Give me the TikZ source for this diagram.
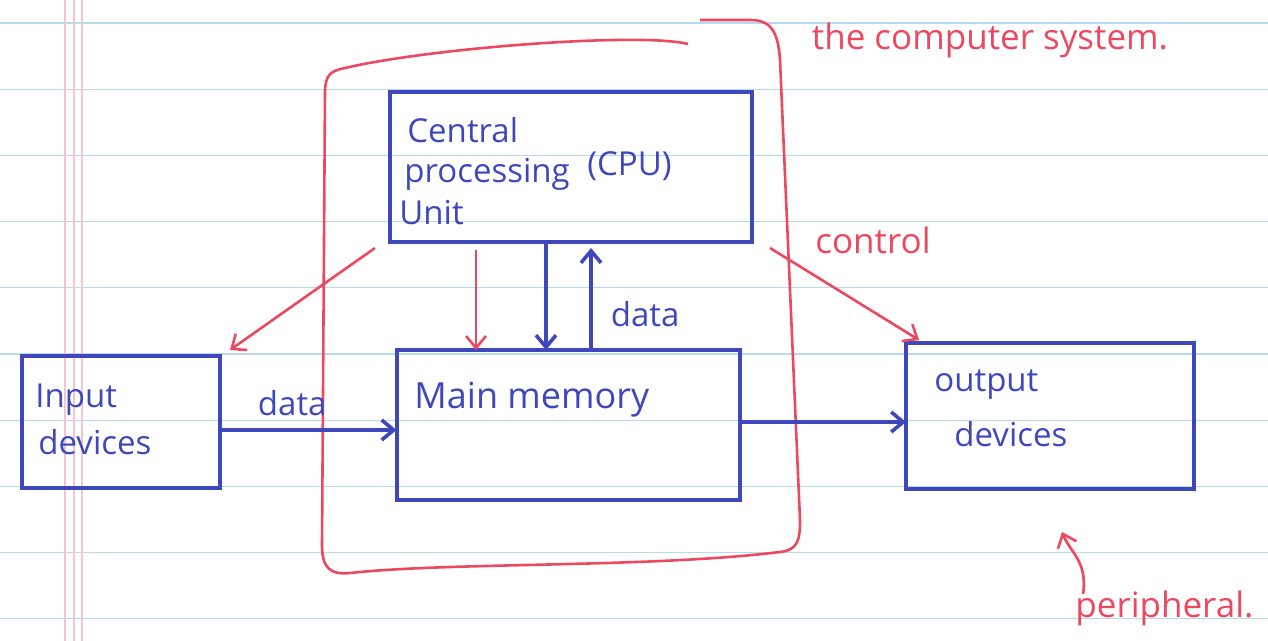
\documentclass[tikz,border=0pt]{standalone}
\usepackage{fontspec}
\setmainfont{Open Sans}
\usepackage{tikz}
\usetikzlibrary{arrows.meta}
\definecolor{blueink}{RGB}{62,72,188}
\definecolor{redink}{RGB}{236,72,96}
\definecolor{ruleblue}{RGB}{180,220,236}
\definecolor{rulepink}{RGB}{246,196,208}
\tikzset{
	box/.style     = {draw=blueink, line width=2pt, rectangle, inner sep=0pt,
		outer sep=0pt},
	hand/.style    = {text=blueink, font=\fontsize{16.5}{19}\selectfont, inner sep=1pt},
	redhand/.style = {text=redink, font=\fontsize{17.5}{20}\selectfont, inner sep=1pt},
	flow/.style    = {draw=blueink, line width=1.8pt, ->},
	ctrl/.style    = {draw=redink, line width=1.3pt, ->},
	ruled/.style   = {draw=ruleblue, line width=0.6pt},
	margin/.style  = {draw=rulepink, line width=0.6pt}
}

\begin{document}
\begin{tikzpicture}[x=0.5pt, y=-0.5pt, >={Straight Barb[length=6pt,width=10pt]}]
	\useasboundingbox (0,0) rectangle (1268,641);
	% lined paper
	\foreach \k in {0,...,9}
		\draw[ruled] (0,{23+66.2*\k}) -- (1268,{23+66.2*\k});
	\foreach \m in {65,74,82}
		\draw[margin] (\m,0) -- (\m,641);

	% the system outline
	\draw[draw=redink, line width=1.3pt]
		(688,44) .. controls (640,32) and (430,48) .. (345,68)
		.. controls (330,71) and (326,75) .. (325,90) -- (322,545)
		.. controls (322,568) and (330,575) .. (350,573)
		.. controls (450,562) and (650,568) .. (780,552)
		.. controls (798,550) and (800,540) .. (800,520) -- (780,60)
		.. controls (778,30) and (770,20) .. (750,20) -- (700,20);

	\draw
	node at (571,167) [box, minimum width=181pt, minimum height=75pt] (cpu) {}
	node at (568,425) [box, minimum width=171.5pt, minimum height=75pt] (mem) {}
	node at (121,422) [box, minimum width=99pt, minimum height=66pt] (inp) {}
	node at (1050,416) [box, minimum width=144pt, minimum height=73pt] (out) {};

	% texts
	\node[hand, anchor=west] (cpu1) at (405,130) {Central};
	\node[hand, anchor=west] (cpu2) at (402,174) {processing};
	\node[hand, anchor=west] (cpu3) at (397,213) {Unit};
	\node[hand, anchor=west] (cpu4) at (585,166) {(CPU)};
	\node[hand, anchor=west, font=\fontsize{18}{21}\selectfont] (mem1) at (412,400) {Main memory};
	\node[hand, anchor=west] (inp1) at (33,400) {Input};
	\node[hand, anchor=west] (inp2) at (36,442) {devices};
	\node[hand, anchor=west] (out1) at (932,385) {output};
	\node[hand, anchor=west] (out2) at (952,434) {devices};
	\node[redhand] (sys) at (990,40) {the computer system.};
	\node[redhand] (ctl) at (873,240) {control};
	\node[redhand, anchor=west] (per) at (1073,608) {peripheral.};

	% data paths
	\draw[flow] ([yshift=-4pt]inp.east) -- node[hand, above=5pt, xshift=-8pt]{data} ([yshift=-4pt]inp.east -| mem.west);
	\draw[flow] ([yshift=1.5pt]mem.east) -- ([yshift=1.5pt]mem.east -| out.west);
	\draw[flow] ([xshift=-12.5pt]cpu.south) -- ([xshift=-12.5pt]cpu.south |- mem.north);
	\draw[flow] ([xshift=10pt]cpu.south |- mem.north) -- node[hand, right=8pt, pos=0.35]{data} ([xshift=10pt,yshift=-3pt]cpu.south);

	% control paths
	\draw[ctrl] ([xshift=-47.5pt,yshift=-4pt]cpu.south) -- ([xshift=-47.5pt]cpu.south |- mem.north);
	\draw[ctrl] ([shift={(-7.5pt,-3pt)}]cpu.south west) -- ([shift={(5pt,3pt)}]inp.north east);
	\draw[ctrl] ([shift={(9pt,-3pt)}]cpu.south east) -- ([shift={(6.5pt,1.5pt)}]out.north west);

	% peripheral pointer
	\coordinate (perup) at (1062,532);
	\draw[ctrl] ([shift={(5pt,-3pt)}]per.north west) .. controls (1088,562) and (1070,552) .. (perup);
\end{tikzpicture}
\end{document}
